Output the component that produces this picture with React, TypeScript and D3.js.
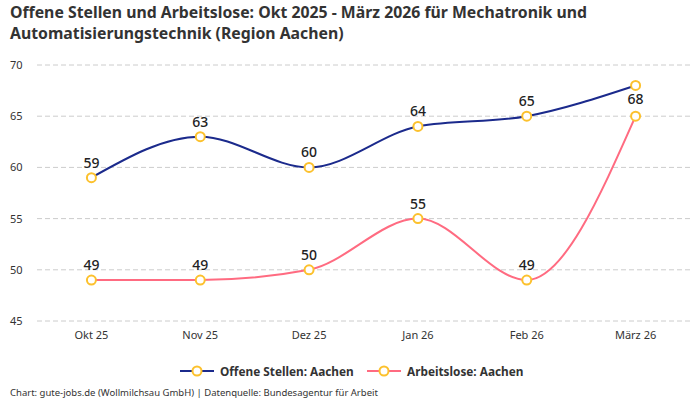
import { useEffect, useRef } from "react"
import * as d3 from "d3"

const months = ["Okt 25", "Nov 25", "Dez 25", "Jan 26", "Feb 26", "März 26"]
const offeneStellen = [59, 63, 60, 64, 65, 68]
const arbeitslose = [49, 49, 50, 55, 49, 65]
const yTicks = [45, 50, 55, 60, 65, 70]
const seriesNames = ["Offene Stellen: Aachen", "Arbeitslose: Aachen"]
const seriesColors = ["#1b2a8c", "#ff6b81"]

const FONT = "'Noto Sans', sans-serif"

export default function App() {
  const svgRef = useRef<SVGSVGElement>(null)

  useEffect(() => {
    if (!svgRef.current) return
    const svg = d3.select(svgRef.current)
    svg.selectAll("*").remove()

    const width = 700
    const height = 400
    const margin = { top: 65, right: 10, bottom: 79, left: 37 }

    svg.append("rect").attr("width", width).attr("height", height).attr("fill", "white")

    // Title (two lines)
    const titleLines = [
      "Offene Stellen und Arbeitslose: Okt 2025 - März 2026 für Mechatronik und",
      "Automatisierungstechnik (Region Aachen)",
    ]
    titleLines.forEach((t, i) => {
      svg.append("text")
        .attr("x", 10)
        .attr("y", 17.5 + i * 21.5)
        .attr("font-family", FONT)
        .attr("font-weight", 700)
        .attr("font-size", 15.8)
        .attr("fill", "#333")
        .text(t)
    })

    const xScale = d3
      .scalePoint<string>()
      .domain(months)
      .range([margin.left, width - margin.right])
      .padding(0.5)

    const yScale = d3
      .scaleLinear()
      .domain([45, 70])
      .range([height - margin.bottom, margin.top])

    // Grid
    svg.append("g")
      .selectAll("line")
      .data(yTicks)
      .join("line")
      .attr("x1", margin.left)
      .attr("x2", width - margin.right)
      .attr("y1", (d) => yScale(d))
      .attr("y2", (d) => yScale(d))
      .attr("stroke", "#cccccc")
      .attr("stroke-dasharray", "5,3")

    svg.append("g")
      .selectAll("text")
      .data(yTicks)
      .join("text")
      .attr("x", 10)
      .attr("y", (d) => yScale(d) + 4)
      .attr("font-family", FONT)
      .attr("font-size", 11)
      .attr("fill", "#333")
      .text((d) => d)

    svg.append("g")
      .selectAll("text")
      .data(months)
      .join("text")
      .attr("x", (d) => xScale(d)!)
      .attr("y", height - margin.bottom + 18)
      .attr("text-anchor", "middle")
      .attr("font-family", FONT)
      .attr("font-size", 11)
      .attr("fill", "#333")
      .text((d) => d)

    const allSeries = [offeneStellen, arbeitslose]

    const line = d3
      .line<number>()
      .x((_, i) => xScale(months[i])!)
      .y((d) => yScale(d))
      .curve(d3.curveMonotoneX)

    allSeries.forEach((values, s) => {
      svg.append("path")
        .datum(values)
        .attr("d", line)
        .attr("fill", "none")
        .attr("stroke", seriesColors[s])
        .attr("stroke-width", 2)
    })

    allSeries.forEach((values) => {
      svg.append("g")
        .selectAll("circle")
        .data(values)
        .join("circle")
        .attr("cx", (_, i) => xScale(months[i])!)
        .attr("cy", (d) => yScale(d))
        .attr("r", 4.5)
        .attr("fill", "white")
        .attr("stroke", "#fcc12d")
        .attr("stroke-width", 2)
    })

    // Data labels: above the point, flipped below if out of the plot, hidden if overlapping
    const placed: { x: number; y: number }[] = []
    allSeries.forEach((values) => {
      values.forEach((v, i) => {
        const x = xScale(months[i])!
        let y = yScale(v) - 15
        if (y - 8 < margin.top) y = yScale(v) + 14
        if (placed.some((p) => Math.abs(p.x - x) < 16 && Math.abs(p.y - y) < 14)) return
        placed.push({ x, y })
        svg.append("text")
          .attr("x", x)
          .attr("y", y + 5)
          .attr("text-anchor", "middle")
          .attr("font-family", FONT)
          .attr("font-size", 14)
          .attr("font-weight", 500)
          .attr("fill", "#222")
          .text(v)
      })
    })

    // Legend
    const legendY = 371
    const legendX = [180, 367]
    seriesNames.forEach((name, s) => {
      const g = svg.append("g").attr("transform", `translate(${legendX[s]}, ${legendY})`)
      g.append("line").attr("x1", 0).attr("x2", 34).attr("stroke", seriesColors[s]).attr("stroke-width", 2)
      g.append("circle").attr("cx", 17).attr("r", 4.5).attr("fill", "white").attr("stroke", "#fcc12d").attr("stroke-width", 2)
      g.append("text")
        .attr("x", 40)
        .attr("y", 4.5)
        .attr("font-family", FONT)
        .attr("font-size", 11.8)
        .attr("font-weight", 700)
        .attr("fill", "#333")
        .text(name)
    })

    svg.append("text")
      .attr("x", 10)
      .attr("y", 396)
      .attr("font-family", FONT)
      .attr("font-size", 9.5)
      .attr("fill", "#333")
      .text("Chart: gute-jobs.de (Wollmilchsau GmbH) | Datenquelle: Bundesagentur für Arbeit")
  }, [])

  return (
    <svg
      ref={svgRef}
      width={700}
      height={400}
      style={{ position: "absolute", left: 0, top: 0, display: "block" }}
    />
  )
}
